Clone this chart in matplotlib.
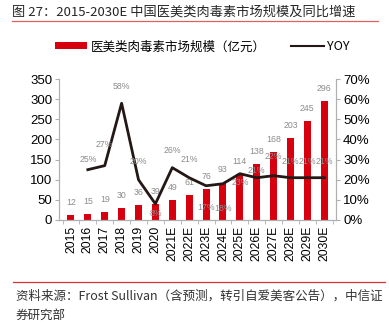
import matplotlib
matplotlib.use("Agg")
import matplotlib.pyplot as plt
from matplotlib.lines import Line2D
from matplotlib.patches import Patch

plt.rcParams['font.family'] = ['Liberation Sans', 'Noto Sans CJK SC', 'DejaVu Sans']

years = ['2015', '2016', '2017', '2018', '2019', '2020', '2021E', '2022E',
         '2023E', '2024E', '2025E', '2026E', '2027E', '2028E', '2029E', '2030E']
market_size = [12, 15, 19, 30, 36, 39, 49, 61, 76, 93, 114, 138, 168, 203, 245, 296]
yoy = [None, 25, 27, 58, 20, 8, 26, 21, 17, 18, 23, 21, 22, 21, 21, 21]
# vertical offset (points) of each growth label relative to its point
yoy_label_dy = [0, 7, 15, 12, 13, -7, 12, 13, -16, -18, -6, 5, 14, 12, 12, 12]

RED = '#D7000F'
LINE = '#231815'
GRAY = '#8C8C8C'
CJK = ['Noto Sans CJK SC', 'DejaVu Sans']

fig = plt.figure(figsize=(3.89, 3.23), dpi=100)
ax = fig.add_axes([0.152, 0.319, 0.712, 0.436])
ax2 = ax.twinx()

x = list(range(len(years)))
bars = ax.bar(x, market_size, width=0.42, color=RED, zorder=2)
for xi, v in zip(x, market_size):
    ax.annotate(f'{v}', (xi, v), xytext=(0, 6), textcoords='offset points',
                ha='center', va='bottom', fontsize=6.3, color=GRAY)

xs = [xi for xi, v in zip(x, yoy) if v is not None]
ys = [v for v in yoy if v is not None]
ax2.plot(xs, ys, color=LINE, lw=2.0, zorder=3)
for xi, v, dy in zip(x, yoy, yoy_label_dy):
    if v is None:
        continue
    ax2.annotate(f'{v}%', (xi, v), xytext=(0, dy), textcoords='offset points',
                 ha='center', va='center', fontsize=6.3, color=GRAY)

ax.set_ylim(0, 350)
ax.set_yticks(range(0, 351, 50))
ax2.set_ylim(0, 70)
ax2.set_yticks(range(0, 71, 10))
ax2.set_yticklabels([f'{t}%' for t in range(0, 71, 10)])
ax.set_xlim(-0.7, len(years) - 0.3)
ax.set_xticks(x)
ax.set_xticklabels(years, rotation=90, fontsize=8.7)
ax.set_xticks([i + 0.5 for i in range(-1, len(years))], minor=True)
ax.tick_params(axis='x', which='major', length=0, pad=4)
ax.tick_params(axis='x', which='minor', length=3, color='#B0B0B0')
ax.tick_params(axis='y', labelsize=9.5, length=3, color='#B0B0B0', pad=2)
ax2.tick_params(axis='y', labelsize=9.5, length=3, color='#B0B0B0', pad=2)

for a in (ax, ax2):
    a.spines['top'].set_visible(False)
    for s in ('left', 'right', 'bottom'):
        a.spines[s].set_color('#B0B0B0')
        a.spines[s].set_linewidth(0.8)

handles = [Patch(facecolor=RED, edgecolor='none'),
           Line2D([], [], color=LINE, lw=1.5)]
labels = ['医美类肉毒素市场规模（亿元）', 'YOY']
fig.legend(handles, labels, loc='center', bbox_to_anchor=(0.52, 0.855), ncol=2,
           frameon=False, prop={'family': CJK, 'size': 9}, handlelength=2.6,
           handleheight=0.5, columnspacing=2.0, handletextpad=0.3)

fig.text(0.031, 0.962, '图 27：2015-2030E 中国医美类肉毒素市场规模及同比增速',
         fontsize=9.5, color='#262626', family=CJK, va='center')
fig.add_artist(Line2D([0.031, 0.972], [0.934, 0.934], color='#E06060', lw=0.9))
fig.add_artist(Line2D([0.033, 0.99], [0.127, 0.127], color='#E03030', lw=0.9))
fig.text(0.041, 0.083, '资料来源：Frost Sullivan（含预测，转引自爱美客公告），中信证',
         fontsize=9, color='#333333', family=CJK, va='center')
fig.text(0.041, 0.025, '券研究部', fontsize=9, color='#333333', family=CJK, va='center')

fig.savefig('out.png', dpi=100)
